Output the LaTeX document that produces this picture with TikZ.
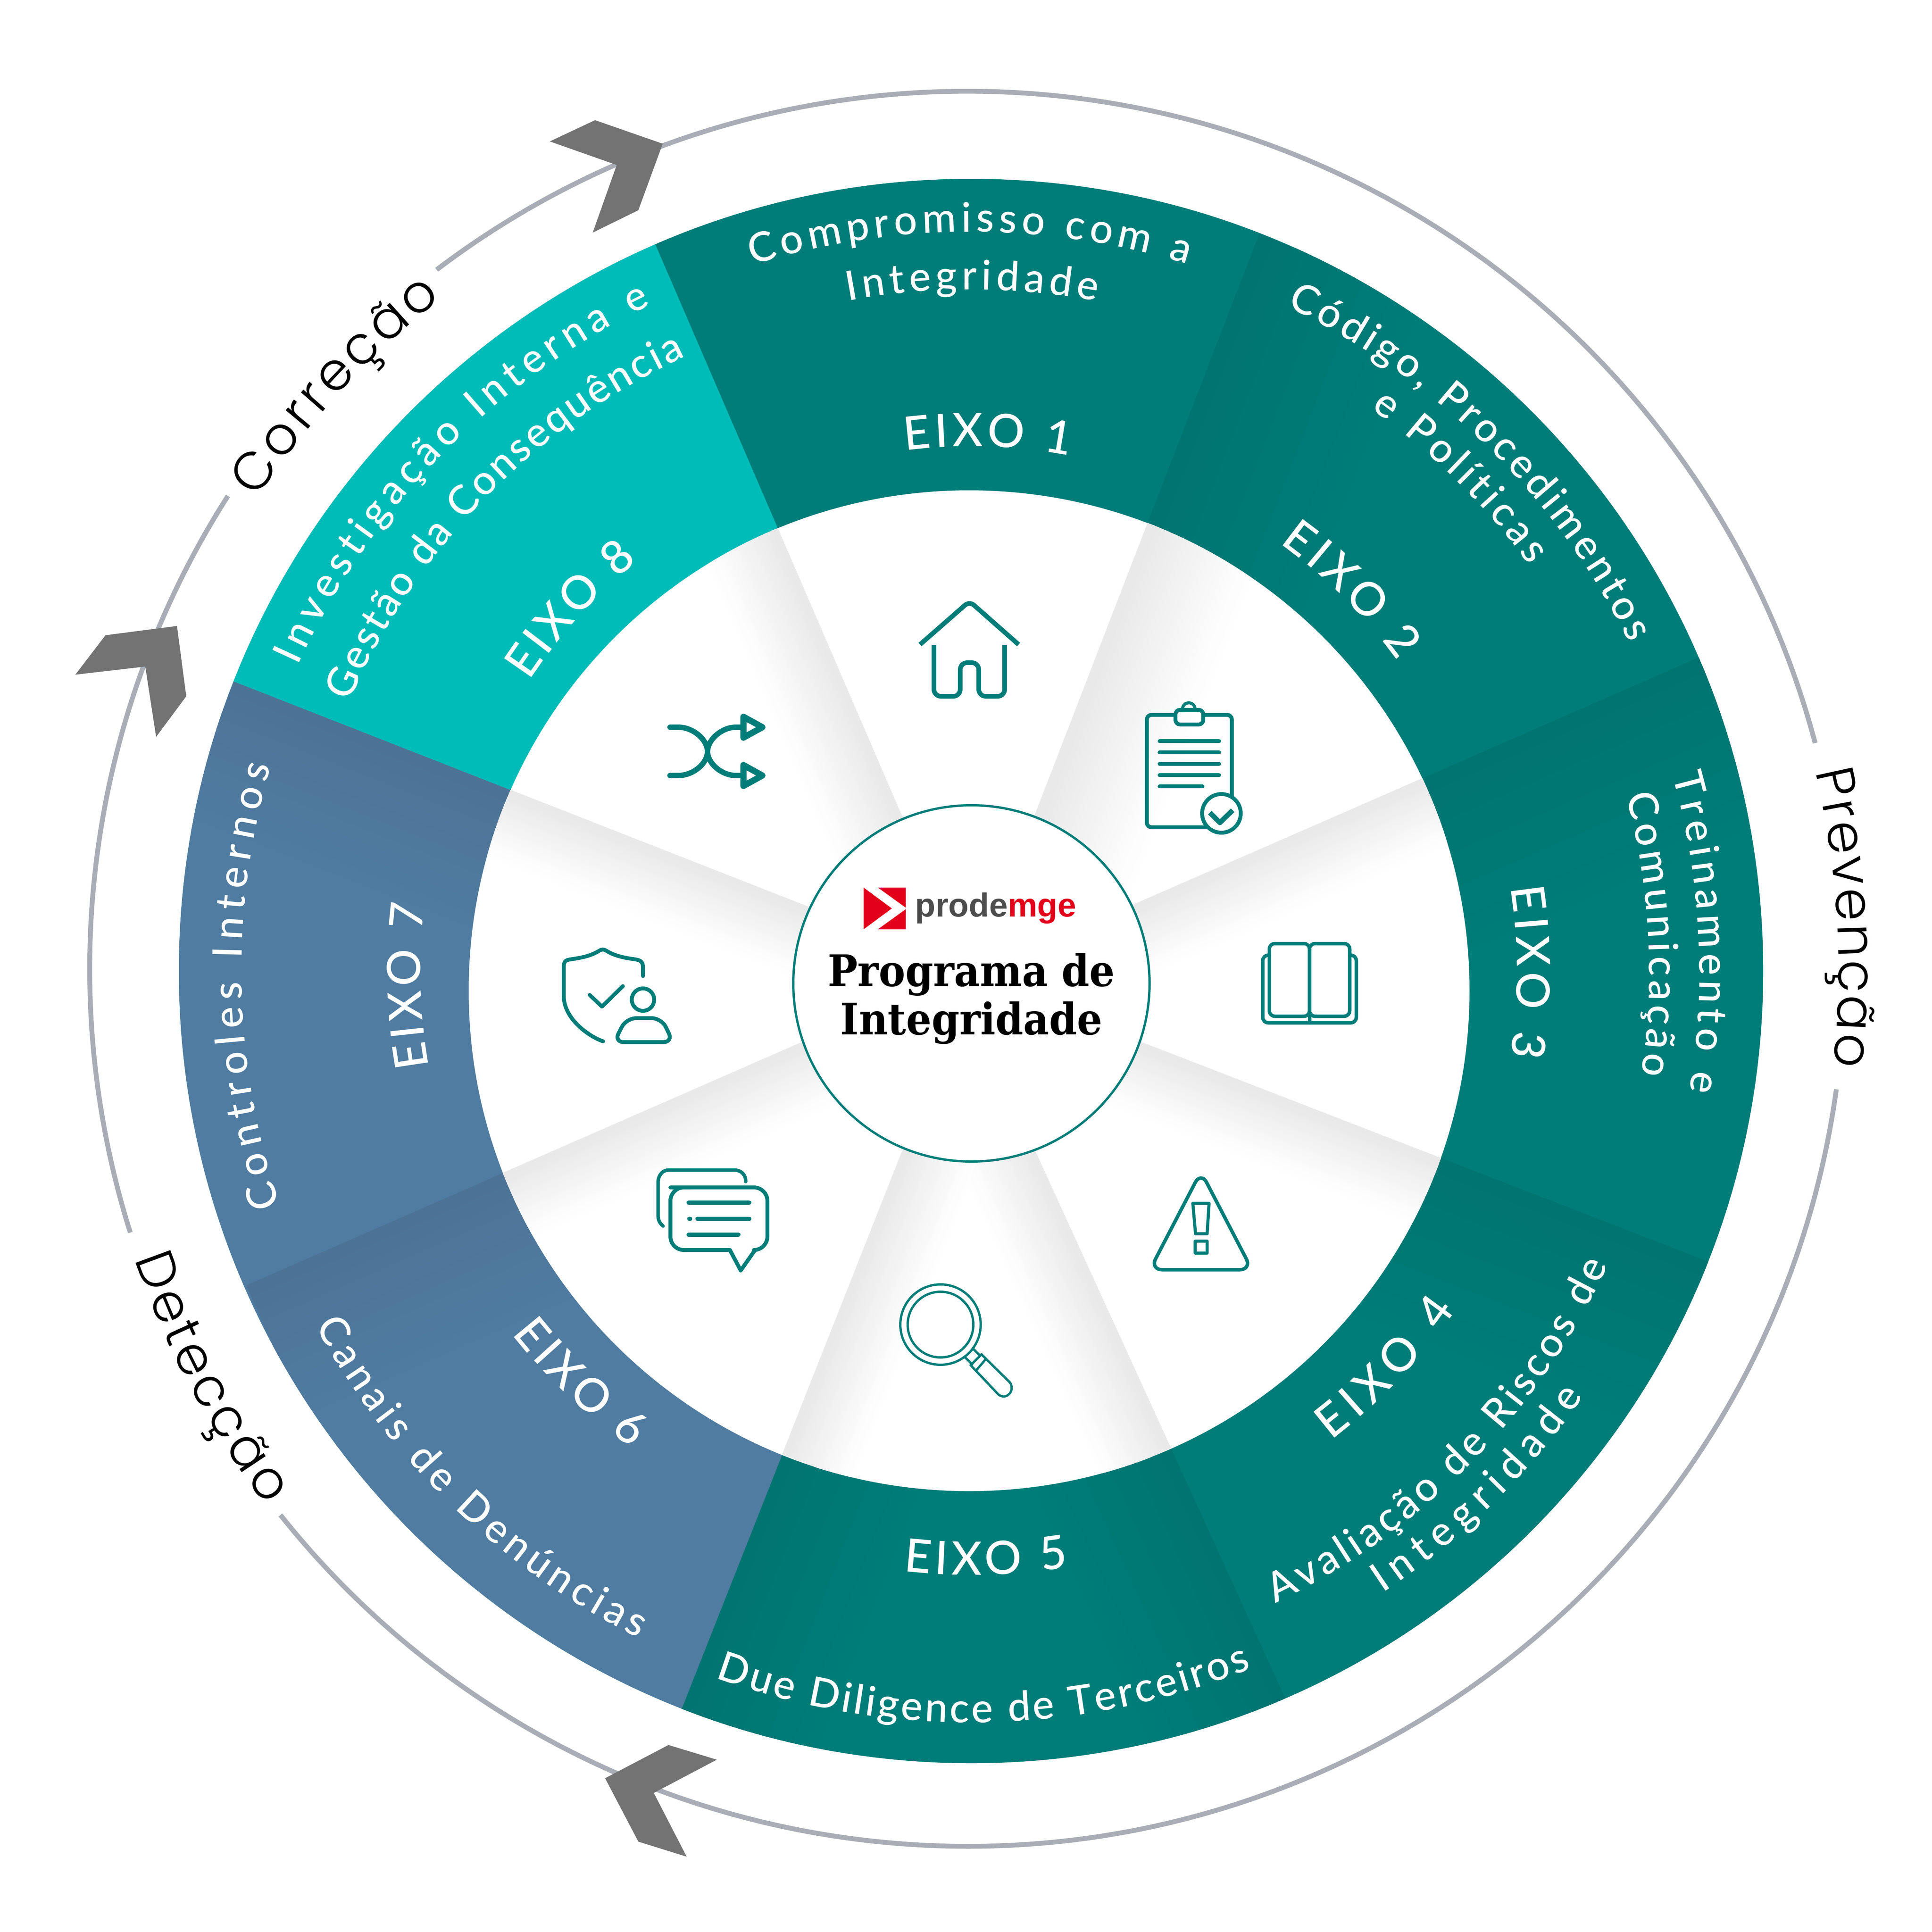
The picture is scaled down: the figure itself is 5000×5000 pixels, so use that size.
\documentclass[tikz,border=0pt]{standalone}
\usepackage{fontspec}
\usetikzlibrary{calc,decorations.text}
\setmainfont{Lato Medium}
\newfontfamily\outerfam[UprightFont=* Light]{Poppins}
\newfontfamily\titlefam[FakeStretch=0.916]{DejaVu Serif}
\newfontfamily\logofam{Liberation Sans}
\newcommand{\labfont}{\fontsize{30}{30}\selectfont\color{white}}
\newcommand{\eixofont}{\fontsize{34}{34}\selectfont\color{white}}
\newcommand{\outfont}{\outerfam\fontsize{39}{39}\selectfont\color{black}}
\definecolor{tealb}{HTML}{007D79}
\definecolor{teald}{HTML}{007470}
\definecolor{aqua}{HTML}{00BCB8}
\definecolor{steel}{HTML}{507CA1}
\definecolor{steeld}{HTML}{4C7396}
\definecolor{ringgray}{HTML}{A9ADB5}
\definecolor{arrowgray}{HTML}{737373}
\definecolor{logored}{HTML}{E3001B}
\definecolor{logogray}{HTML}{4D4D4D}
\definecolor{shadowgray}{HTML}{E8E8E8}
\tikzset{
  ringline/.style={draw=ringgray,line width=0.125cm},
  chevron/.style={fill=arrowgray},
  icon/.style={draw=tealb,line width=0.1cm,line join=round,line cap=round},
  thinicon/.style={draw=tealb,line width=0.06cm,line join=round,line cap=round},
}
% strips parallel to an edge, from wide and pale to narrow and dark
\newcommand{\edgeshade}[7]{%
  \foreach \m in {1,...,#6}{%
    \pgfmathsetmacro\pct{100*(\m-0.5)/#6}%
    \pgfmathsetmacro\dd{#4*(#6+1-\m)/#6*0.01}%
    \pgfmathsetmacro\rb{-(#3)}%
    \fill[#5!\pct!#7] (#1) -- (#2) -- ($(#2)!\dd cm!\rb:(#1)$) -- ($(#1)!\dd cm!#3:(#2)$) -- cycle;
  }%
}
\newcommand{\arctext}[5]{%
  \path[decorate,decoration={text along path,text={|#4|#5},text align={fit to path}}]
    (#1:#3) arc[start angle=#1,end angle=#2,radius=#3];%
}
\begin{document}
\begin{tikzpicture}[x=0.01cm,y=-0.01cm]
\useasboundingbox (0,0) rectangle (5000,5000);
\fill[white] (0,0) rectangle (5000,5000);

\coordinate (C) at (2513,2513);
\coordinate (D) at (2508,2564);
\foreach \n/\ox/\oy/\ix/\iy in {1/3259/606/2972/1349,2/4401/1700/3687/2012,3/4423/3266/3731/2998,4/3326/4395/3030/3747,5/1764/4423/2025/3763,6/638/3326/1301/3036,7/606/1764/1320/2044,8/1697/635/2012/1365}{
  \coordinate (o\n) at (\ox,\oy);
  \coordinate (i\n) at (\ix,\iy);
  \coordinate (e\n) at ($(i\n)!1.25!(o\n)$);
  \coordinate (a\n) at ($(o\n)!2.3!(i\n)$);
}
\foreach \j/\p in {1/8,2/1,3/2,4/3,5/4,6/5,7/6,8/7}{
  \coordinate (m\j) at ($(C)!1.4!($(e\p)!0.5!(e\j)$)$);
}

% ring line
\begin{scope}[shift={(2503,2507)},x=0.01cm,y=0.01cm]
  \draw[ringline] (127.2:2271) arc[start angle=127.2,end angle=14.9,radius=2271];
  \draw[ringline] (-7.9:2271) arc[start angle=-7.9,end angle=-141.5,radius=2271];
  \draw[ringline] (197.5:2271) arc[start angle=197.5,end angle=147.4,radius=2271];
\end{scope}

% chevrons
\fill[chevron] (1715,372) -- (1540,311) -- (1423,366) -- (1596,427) -- (1534,602) -- (1652,544) -- cycle;
\fill[chevron] (458,1620) -- (273,1644) -- (195,1746) -- (376,1725) -- (404,1907) -- (482,1802) -- cycle;
\fill[chevron] (1566,4602) -- (1730,4516) -- (1855,4554) -- (1692,4640) -- (1777,4805) -- (1652,4766) -- cycle;

% ring sectors
\begin{scope}
  \clip (C) circle[radius=2050];
  \fill[tealb] (C) circle[radius=2060];
  \foreach \j/\p/\col in {1/8/tealb,2/1/tealb,3/2/tealb,4/3/tealb,5/4/tealb,6/5/steel,7/6/steel,8/7/aqua}{
    \begin{scope}
      \clip (i\p) -- (e\p) -- (m\j) -- (e\j) -- (i\j) -- cycle;
      \fill[\col] (0,0) rectangle (5000,5000);
      \ifnum\j=2 \edgeshade{a1}{o1}{-90}{500}{teald}{12}{tealb}\fi
      \ifnum\j=3 \edgeshade{a2}{o2}{-90}{500}{teald}{12}{tealb}\fi
      \ifnum\j=4 \edgeshade{a3}{o3}{-90}{500}{teald}{12}{tealb}\fi
      \ifnum\j=5 \edgeshade{a4}{o4}{-90}{400}{teald}{12}{tealb}\edgeshade{a5}{o5}{90}{400}{teald}{12}{tealb}\fi
      \ifnum\j=6 \edgeshade{a6}{o6}{90}{400}{steeld}{12}{steel}\fi
      \ifnum\j=7 \edgeshade{a7}{o7}{90}{400}{steeld}{12}{steel}\fi
    \end{scope}
  }
\end{scope}

% white disc and its wedge shadows
\fill[white] (D) circle[radius=1295];
\begin{scope}
  \clip (D) circle[radius=1295];
  \foreach \e/\s/\w/\p/\q in {1/-90/300/1/2,2/-90/180/2/3,3/-90/180/3/4,4/-90/190/4/5,5/90/190/4/5,6/90/180/5/6,7/90/180/6/7,8/90/200/7/8}{
    \begin{scope}
      \clip (a\p) -- (o\p) -- (o\q) -- (a\q) -- cycle;
      \edgeshade{a\e}{i\e}{\s}{\w}{shadowgray}{24}{white}
    \end{scope}
  }
\end{scope}

% icon: house
\draw[icon,line width=0.12cm,line cap=butt,rounded corners=0.15cm] (2381,1668) -- (2509,1556) -- (2636,1668);
\draw[icon,line width=0.12cm,line cap=butt,rounded corners=0.18cm] (2417,1669) -- (2417,1802) -- (2485,1802) -- (2485,1715) -- (2533,1715) -- (2533,1802) -- (2600,1802) -- (2600,1669);

% icon: clipboard
\draw[icon,rounded corners=0.12cm] (3042,1850) -- (2968,1850) -- (2968,2141) -- (3124,2141);
\draw[icon,rounded corners=0.12cm] (3114,1850) -- (3188,1850) -- (3188,2060);
\draw[icon,rounded corners=0.12cm] (3042,1837) rectangle (3114,1875);
\draw[icon,line width=0.08cm] (3060,1837) .. controls (3060,1813) and (3093,1813) .. (3093,1837);
\foreach \yy/\xe in {1918/3155,1947/3155,1977/3155,2006/3155,2035/3112}{
  \draw[icon] (3001,\yy) -- (\xe,\yy);
}
\draw[icon] (3161,2105) circle[radius=50];
\draw[icon,line width=0.13cm,line cap=butt] (3131,2103) -- (3157,2129) -- (3190,2097);

% icon: book
\draw[icon,line width=0.09cm,rounded corners=0.14cm] (3285,2442) rectangle (3389,2630);
\draw[icon,line width=0.09cm,rounded corners=0.14cm] (3389,2442) rectangle (3493,2630);
\draw[icon,line width=0.09cm,rounded corners=0.14cm] (3285,2472) -- (3268,2472) -- (3268,2647) -- (3510,2647) -- (3510,2472) -- (3493,2472);
\draw[icon,line width=0.09cm] (3389,2630) -- (3389,2647);

% icon: warning
\draw[icon,line width=0.09cm,rounded corners=0.32cm] (3108,3032) -- (2976,3286) -- (3240,3286) -- cycle;
\draw[icon,line width=0.08cm] (3087,3114) -- (3129,3114) -- (3124,3193) -- (3094,3193) -- cycle;
\draw[icon,line width=0.08cm] (3093,3212) rectangle (3124,3243);

% icon: magnifier
\draw[icon,line width=0.06cm] (2434,3428) circle[radius=104];
\draw[icon,line width=0.06cm] (2434,3428) circle[radius=85];
\draw[thinicon] (2519,3491) -- (2537,3509) (2498,3513) -- (2516,3531);
\draw[thinicon] (2540,3505) -- (2512,3533);
\draw[thinicon] (2549,3520) -- (2526,3547);
\draw[thinicon] (2540,3505) -- (2614,3578) .. controls (2628,3600) and (2604,3625) .. (2584,3609) -- (2512,3533);

% icon: chat
\draw[icon,line width=0.09cm] (1716,3173) .. controls (1706,3165) and (1703,3155) .. (1703,3145) -- (1703,3060) .. controls (1703,3042) and (1715,3028) .. (1730,3028) -- (1900,3028) .. controls (1918,3028) and (1930,3040) .. (1930,3058);
\draw[icon,rounded corners=0.35cm] (1735,3073) -- (1986,3073) -- (1986,3235) -- (1954,3235);
\draw[icon] (1954,3235) -- (1917,3288) -- (1889,3235);
\draw[icon,rounded corners=0.35cm] (1889,3235) -- (1735,3235) -- (1735,3073) -- (1790,3073);
\draw[icon,line width=0.11cm] (1782,3112) -- (1939,3112);
\draw[icon,line width=0.11cm] (1784,3154) -- (1786,3154) (1805,3154) -- (1939,3154);
\draw[icon,line width=0.11cm] (1782,3195) -- (1911,3195);

% icon: crossing arrows
\draw[icon,line width=0.14cm] (1734,1882) -- (1755,1882) .. controls (1795,1882) and (1831,1915) .. (1831,1945) .. controls (1831,1975) and (1867,2007) .. (1905,2007) -- (1924,2007);
\draw[icon,line width=0.14cm] (1734,2007) -- (1755,2007) .. controls (1795,2007) and (1831,1975) .. (1831,1945) .. controls (1831,1915) and (1867,1882) .. (1905,1882) -- (1924,1882);
\draw[icon,line width=0.16cm] (1924,1855) -- (1973,1882) -- (1924,1909) -- cycle;
\draw[icon,line width=0.16cm] (1924,1980) -- (1973,2007) -- (1924,2034) -- cycle;

% icon: shield and person
\draw[icon] (1664,2526) -- (1664,2503) .. controls (1664,2490) and (1658,2485) .. (1645,2483) .. controls (1610,2478) and (1590,2473) .. (1570,2461) .. controls (1562,2456) and (1558,2456) .. (1550,2461) .. controls (1530,2473) and (1510,2478) .. (1475,2483) .. controls (1462,2485) and (1459,2490) .. (1459,2503) -- (1459,2577) .. controls (1459,2640) and (1530,2685) .. (1561,2695);
\draw[icon] (1526,2575) -- (1558,2605) -- (1612,2552);
\draw[icon] (1664,2587) circle[radius=29];
\draw[icon,rounded corners=0.25cm] (1589,2697) -- (1621,2635) -- (1712,2635) -- (1742,2697) -- cycle;

% centre
\draw[draw=tealb,line width=0.06cm,fill=white] (2514,2545) circle[radius=461];
\fill[logored] (2235,2297) -- (2308,2351) -- (2235,2405) -- cycle;
\fill[logored] (2272,2297) -- (2344,2297) -- (2344,2349) -- cycle;
\fill[logored] (2272,2405) -- (2344,2405) -- (2344,2353) -- cycle;
\node[anchor=base west,inner sep=0pt,font=\logofam\bfseries\fontsize{24.5}{25}\selectfont] (logotext) at (2368,2372) {\textcolor{logogray}{prode}\textcolor{logored}{mge}};
\node[anchor=base,inner sep=0pt,font=\titlefam\bfseries\fontsize{32}{32}\selectfont] (title1) at (2514,2552) {Programa de};
\node[anchor=base,inner sep=0pt,font=\titlefam\bfseries\fontsize{32}{32}\selectfont] (title2) at (2514,2677) {Integridade};

% curved labels
\begin{scope}[shift={(2513,2513)},x=0.01cm,y=0.01cm]
  \arctext{107.2}{73}{1913}{\labfont}{Compromisso com a}
  \arctext{100.4}{79.4}{1764}{\labfont}{Integridade}
  \arctext{97.2}{79.2}{1358}{\eixofont}{EIXO 1}
  \arctext{64.6}{26.5}{1904}{\labfont}{Código, Procedimentos}
  \arctext{54.6}{36}{1786}{\labfont}{e Políticas}
  \arctext{54.2}{36}{1365}{\eixofont}{EIXO 2}
  \arctext{15.6}{-9.5}{1885}{\labfont}{Treinamento e}
  \arctext{15}{-8.8}{1755}{\labfont}{Comunicação}
  \arctext{8.8}{-9}{1413}{\eixofont}{EIXO 3}
  \arctext{-64.3}{-24.8}{1816}{\labfont}{Avaliação de Riscos de}
  \arctext{-56.5}{-34.8}{1930}{\labfont}{Integridade}
  \arctext{-52.5}{-35}{1531}{\eixofont}{EIXO 4}
  \arctext{-96.4}{-80.7}{1563}{\eixofont}{EIXO 5}
  \arctext{-109.9}{-68.1}{1945}{\labfont}{Due Diligence de Terceiros}
  \arctext{-151.6}{-116.5}{1929}{\labfont}{Canais de Denúncias}
  \arctext{-141.7}{-125.4}{1515}{\eixofont}{EIXO 6}
  \arctext{198.7}{163.7}{1888}{\labfont}{Controles Internos}
  \arctext{190}{173}{1425}{\eixofont}{EIXO 7}
  \arctext{155.6}{115.7}{1913}{\labfont}{Investigação Interna e}
  \arctext{156.6}{114.9}{1754}{\labfont}{Gestão da Consequência}
  \arctext{146.7}{129.1}{1368}{\eixofont}{EIXO 8}
  \arctext{13.3}{-6.3}{2245}{\outfont}{Prevenção}
  \arctext{-161}{-142.8}{2290}{\outfont}{Detecção}
  \arctext{146.5}{128.2}{2216}{\outfont}{Correção}
\end{scope}
\end{tikzpicture}
\end{document}
